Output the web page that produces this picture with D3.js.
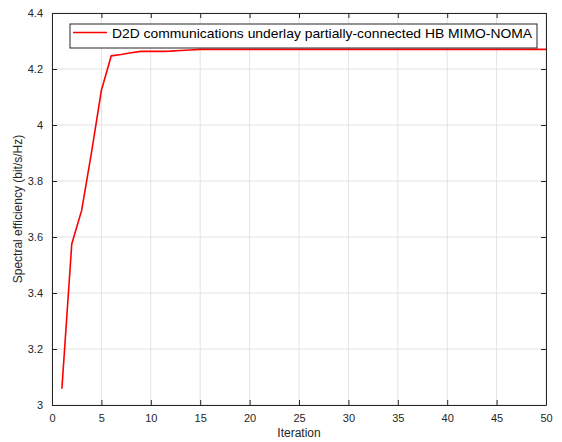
<!DOCTYPE html>
<html>
<head>
<meta charset="utf-8">
<script src="https://cdn.jsdelivr.net/npm/d3@7"></script>
<style>
  body { margin: 0; background: #fff; }
  text { font-family: "Liberation Sans", Arial, sans-serif; }
</style>
</head>
<body>
<svg id="chart" width="562" height="442"></svg>
<script>
// data
var iterations = d3.range(1, 51);
var efficiency = [3.058, 3.575, 3.695, 3.902, 4.124, 4.247, 4.252, 4.258, 4.263, 4.263,
  4.263, 4.264, 4.266, 4.268, 4.270, 4.270, 4.270, 4.270, 4.270, 4.270,
  4.270, 4.270, 4.270, 4.270, 4.270, 4.270, 4.270, 4.270, 4.270, 4.270,
  4.270, 4.270, 4.270, 4.270, 4.270, 4.270, 4.270, 4.270, 4.270, 4.270,
  4.270, 4.270, 4.270, 4.270, 4.270, 4.270, 4.270, 4.270, 4.270, 4.270];
var xTicks = [0, 5, 10, 15, 20, 25, 30, 35, 40, 45, 50];
var yTicks = [3, 3.2, 3.4, 3.6, 3.8, 4, 4.2, 4.4];
var seriesName = "D2D communications underlay partially-connected HB MIMO-NOMA";

var svg = d3.select("#chart");
var pLeft = 52, pRight = 546, pTop = 13, pBottom = 405;

var x = d3.scaleLinear().domain([0, 50]).range([pLeft, pRight]);
var y = d3.scaleLinear().domain([3, 4.4]).range([pBottom, pTop]);

var axisColor = "#262626";

// grid
svg.append("g").selectAll("line").data(xTicks).enter().append("line")
  .attr("x1", d => x(d)).attr("x2", d => x(d))
  .attr("y1", pTop).attr("y2", pBottom)
  .attr("stroke", "#e3e3e3").attr("stroke-width", 1);
svg.append("g").selectAll("line").data(yTicks).enter().append("line")
  .attr("x1", pLeft).attr("x2", pRight)
  .attr("y1", d => y(d)).attr("y2", d => y(d))
  .attr("stroke", "#e3e3e3").attr("stroke-width", 1);

// axes (ticks pointing inward)
var xAxis = d3.axisBottom(x).tickValues(xTicks).tickSizeInner(-5).tickSizeOuter(0).tickPadding(9);
var yAxis = d3.axisLeft(y).tickValues(yTicks).tickSizeInner(-5).tickSizeOuter(0).tickPadding(9)
  .tickFormat(d3.format("~g"));
var xTop = d3.axisTop(x).tickValues(xTicks).tickSizeInner(-5).tickSizeOuter(0).tickFormat("");
var yRight = d3.axisRight(y).tickValues(yTicks).tickSizeInner(-5).tickSizeOuter(0).tickFormat("");

function style(g) {
  g.selectAll("path").attr("stroke", axisColor);
  g.selectAll("line").attr("stroke", axisColor);
  g.selectAll("text").attr("fill", axisColor).style("font-size", "11px");
}
svg.append("g").attr("transform", "translate(0," + pBottom + ")").call(xAxis).call(style);
svg.append("g").attr("transform", "translate(" + pLeft + ",0)").call(yAxis).call(style);
svg.append("g").attr("transform", "translate(0," + pTop + ")").call(xTop).call(style);
svg.append("g").attr("transform", "translate(" + pRight + ",0)").call(yRight).call(style);

// line
var line = d3.line().x((d, i) => x(iterations[i])).y(d => y(d));
svg.append("path").datum(efficiency)
  .attr("d", line)
  .attr("fill", "none")
  .attr("stroke", "#ff0000")
  .attr("stroke-width", 1.6);

// axis labels
svg.append("text").attr("x", (pLeft + pRight) / 2).attr("y", 437)
  .attr("text-anchor", "middle").attr("fill", axisColor).style("font-size", "12px")
  .text("Iteration");
svg.append("text").attr("transform", "translate(22," + ((pTop + pBottom) / 2) + ") rotate(-90)")
  .attr("text-anchor", "middle").attr("fill", axisColor).style("font-size", "12px")
  .text("Spectral efficiency (bit/s/Hz)");

// legend
var lg = svg.append("g");
lg.append("rect").attr("x", 70).attr("y", 24).attr("width", 467).attr("height", 24)
  .attr("fill", "#fff").attr("stroke", axisColor).attr("stroke-width", 1);
lg.append("line").attr("x1", 73).attr("x2", 107).attr("y1", 32.5).attr("y2", 32.5)
  .attr("stroke", "#ff0000").attr("stroke-width", 1.6);
lg.append("text").attr("x", 112).attr("y", 37.5)
  .attr("fill", "#000").style("font-size", "13px")
  .attr("textLength", 420).attr("lengthAdjust", "spacingAndGlyphs")
  .text(seriesName);
</script>
</body>
</html>
